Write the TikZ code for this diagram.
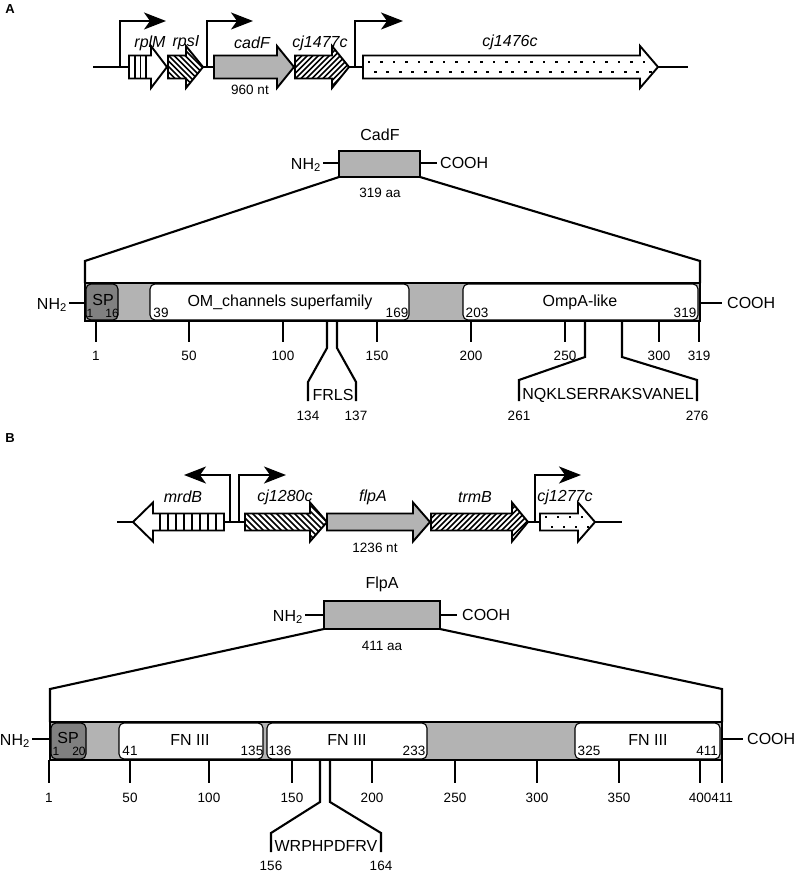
\documentclass[tikz,border=0pt]{standalone}
\usepackage{fontspec}
\setmainfont{Liberation Sans}
\usetikzlibrary{arrows.meta}
\definecolor{gfill}{HTML}{B3B3B3}
\definecolor{spfill}{HTML}{808080}
\newcommand{\gpath}[6]{(#1,{#4-#5}) -- (#2,{#4-#5}) -- (#2,{#4-#6}) -- (#3,#4) -- (#2,{#4+#6}) -- (#2,{#4+#5}) -- (#1,{#4+#5}) -- cycle}
\newcommand{\gene}[7]{%
  \fill[white] \gpath{#1}{#2}{#3}{#4}{#5}{#6};
  \begin{scope}\clip \gpath{#1}{#2}{#3}{#4}{#5}{#6};#7\end{scope}
  \draw[gline] \gpath{#1}{#2}{#3}{#4}{#5}{#6};}
\newcommand{\hatchbk}[5]{\foreach \i in {0,...,45}{\draw[hatch] ({#1-(#4-#3)+\i*#5},#3) -- ({#1+\i*#5},#4);}}
\newcommand{\hatchfw}[5]{\foreach \i in {0,...,45}{\draw[hatch] ({#1-(#4-#3)+\i*#5},#4) -- ({#1+\i*#5},#3);}}
\newcommand{\vstripes}[3]{\foreach \sx in {#1}{\draw[hatch] (\sx,#2) -- (\sx,#3);}}
\newcommand{\dotrows}[5]{\foreach \i in {0,...,30}{\fill ({#1+\i*#5-1.3},{#3-1.3}) rectangle ++(2.6,2.6); \fill ({#1+#5/2+\i*#5-1.3},{#4-1.3}) rectangle ++(2.6,2.6);}}
\begin{document}
\begin{tikzpicture}[x=1pt,y=-1pt,
  lw/.style={line width=2.1pt},
  gline/.style={line width=1.9pt, line join=miter},
  hatch/.style={line width=1.5pt},
  prom/.style={line width=1.6pt, -{Stealth[length=22pt,width=17pt,inset=6pt]}},
  tick/.style={line width=2.1pt},
  big/.style={inner sep=0pt, font=\fontsize{16}{18}\selectfont},
  small/.style={inner sep=0pt, font=\fontsize{13.5}{15}\selectfont},
  tiny/.style={inner sep=0pt, font=\fontsize{12}{13}\selectfont},
  gname/.style={inner sep=0pt, font=\fontsize{16}{18}\selectfont\itshape},
  plabel/.style={inner sep=0pt, font=\fontsize{13}{14}\selectfont\bfseries},
  dom/.style={draw, line width=1.1pt, fill=white, rounded corners=5pt},
  spdom/.style={draw, line width=1.1pt, fill=spfill, rounded corners=5pt}]
\useasboundingbox (0,0) rectangle (800,874);

% ================= Panel A =================
\node[plabel] (pA) at (10,9) {A};
\draw[lw] (93,67) -- (688,67);
% promoters
\draw[prom] (120,67) -- (120,21) -- (166,21);
\draw[prom] (207,67) -- (207,21) -- (253,21);
\draw[prom] (355,67) -- (355,21) -- (403,21);
% genes
\gene{129}{151}{167}{67}{11.5}{21}{\vstripes{135,140.5,146}{50}{85}}
\gene{168}{186}{203}{67}{11.5}{21}{\hatchbk{168}{203}{46}{88}{5.5}}
\gene{214}{277}{294}{67}{11.5}{21}{\fill[gfill] (200,40) rectangle (300,95);}
\gene{295}{332}{349}{67}{11.5}{21}{\hatchfw{295}{349}{46}{88}{5.5}}
\gene{363}{640}{658}{67}{11.5}{21}{\dotrows{369}{660}{62}{72}{12.5}}
\node[gname] (nrplM) at (150,43) {rplM};
\node[gname] (nrpsI) at (186,43) {rpsI};
\node[gname] (ncadF) at (252,43) {cadF};
\node[gname] (ncj1477c) at (320,43) {cj1477c};
\node[gname] (ncj1476c) at (510,42) {cj1476c};
\node[small] (ntA) at (250,90) {960 nt};

% small CadF
\node[big] (cadFname) at (380,135) {CadF};
\draw[lw, fill=gfill] (339,151) rectangle (420,177);
\draw[lw] (323,163) -- (339,163);
\draw[lw] (420,163) -- (437,163);
\node[big, anchor=east] (nh2a) at (321,165) {NH\textsubscript{2}};
\node[big, anchor=west] (cooha) at (440,163) {COOH};
\node[small] (aaA) at (380,193) {319 aa};
\draw[lw] (339,177) -- (85,261) -- (85,283);
\draw[lw] (420,177) -- (700,261) -- (700,283);

% big CadF bar
\fill[gfill] (85,283) rectangle (700,321);
\draw[spdom] (86,284) rectangle (118,320);
\draw[dom] (150,284) rectangle (409,320);
\draw[dom] (463,284) rectangle (698,320);
\draw[lw] (85,283) rectangle (700,321);
\draw[lw] (69,303) -- (85,303);
\draw[lw] (700,303) -- (722,303);
\node[big, anchor=east] (nh2A) at (67,305) {NH\textsubscript{2}};
\node[big, anchor=west] (coohA) at (727,303) {COOH};
\node[big] (spA) at (103,300) {SP};
\node[tiny] (spA1) at (90,313) {1};
\node[tiny] (spA16) at (112,313) {16};
\node[big] (omA) at (280,302) {OM\_channels superfamily};
\node[small] (omA1) at (161,313) {39};
\node[small] (omA2) at (397,313) {169};
\node[big] (ompA) at (580,302) {OmpA-like};
\node[small] (ompA1) at (477,313) {203};
\node[small] (ompA2) at (685,313) {319};
% ticks
\foreach \x/\l in {96/1,189/50,283/100,377/150,471/200,565/250,659/300,699/319}{
  \draw[tick] (\x,321) -- (\x,342);
  \node[small] (ta\l) at (\x,356) {\l};}
% motifs
\draw[lw] (327,321) -- (327,348) -- (308,382) -- (308,401);
\draw[lw] (337,321) -- (337,348) -- (356,382) -- (356,401);
\node[big] (frls) at (333,395) {FRLS};
\node[small] (m134) at (308,416) {134};
\node[small] (m137) at (356,416) {137};
\draw[lw] (585,321) -- (585,357) -- (519,380) -- (519,401);
\draw[lw] (622,321) -- (622,357) -- (697,380) -- (697,401);
\node[big] (nqkl) at (608,395) {NQKLSERRAKSVANEL};
\node[small] (m261) at (519,416) {261};
\node[small] (m276) at (697,416) {276};

% ================= Panel B =================
\node[plabel] (pB) at (10,438) {B};
\draw[lw] (117,522) -- (622,522);
\draw[prom] (230,522) -- (230,475) -- (184,475);
\draw[prom] (239,522) -- (239,475) -- (286,475);
\draw[prom] (535,522) -- (535,475) -- (581,475);
\gene{224}{153}{133}{522}{8.5}{19.5}{\vstripes{160,168,176,184,192,200,208,216}{500}{545}}
\gene{245}{310}{327}{522}{8.5}{19.5}{\hatchbk{245}{327}{502}{542}{6}}
\gene{327}{413}{430}{522}{8.5}{19.5}{\fill[gfill] (320,495) rectangle (440,550);}
\gene{431}{512}{528}{522}{8.5}{19.5}{\hatchfw{431}{528}{502}{542}{5.5}}
\gene{540}{578}{595}{522}{8.5}{19.5}{\dotrows{546}{600}{517}{527}{12}}
\node[gname] (nmrdB) at (183,497) {mrdB};
\node[gname] (ncj1280c) at (285,497) {cj1280c};
\node[gname] (nflpA) at (373,497) {flpA};
\node[gname] (ntrmB) at (475,497) {trmB};
\node[gname] (ncj1277c) at (565,497) {cj1277c};
\node[small] (ntB) at (375,548) {1236 nt};

% small FlpA
\node[big] (flpAname) at (382,584) {FlpA};
\draw[lw, fill=gfill] (324,601) rectangle (440,629);
\draw[lw] (305,615) -- (324,615);
\draw[lw] (440,615) -- (457,615);
\node[big, anchor=east] (nh2b) at (303,617) {NH\textsubscript{2}};
\node[big, anchor=west] (coohb) at (462,615) {COOH};
\node[small] (aaB) at (382,646) {411 aa};
\draw[lw] (324,629) -- (50,689) -- (50,722);
\draw[lw] (440,629) -- (722,689) -- (722,722);

% big FlpA bar
\fill[gfill] (50,722) rectangle (722,760);
\draw[spdom] (51,723) rectangle (86,759);
\draw[dom] (119,723) rectangle (263,759);
\draw[dom] (267,723) rectangle (427,759);
\draw[dom] (575,723) rectangle (720,759);
\draw[lw] (50,722) rectangle (722,760);
\draw[lw] (32,739) -- (50,739);
\draw[lw] (722,739) -- (743,739);
\node[big, anchor=east] (nh2B) at (30,741) {NH\textsubscript{2}};
\node[big, anchor=west] (coohB) at (747,739) {COOH};
\node[big] (spB) at (68,738) {SP};
\node[tiny] (spB1) at (56,751) {1};
\node[tiny] (spB20) at (79,751) {20};
\node[big] (fn1) at (190,740) {FN III};
\node[small] (fn1a) at (130,751) {41};
\node[small] (fn1b) at (252,751) {135};
\node[big] (fn2) at (347,740) {FN III};
\node[small] (fn2a) at (280,751) {136};
\node[small] (fn2b) at (414,751) {233};
\node[big] (fn3) at (648,740) {FN III};
\node[small] (fn3a) at (589,751) {325};
\node[small] (fn3b) at (707,751) {411};
\foreach \x/\l in {49/1,130/50,209/100,292/150,372/200,455/250,537/300,619/350,700/400,722/411}{
  \draw[tick] (\x,760) -- (\x,783);
  \node[small] (tb\l) at (\x,798) {\l};}
\draw[lw] (320,760) -- (320,802) -- (271,833) -- (271,852);
\draw[lw] (330,760) -- (330,802) -- (381,833) -- (381,852);
\node[big] (wrph) at (326,846) {WRPHPDFRV};
\node[small] (m156) at (271,866) {156};
\node[small] (m164) at (381,866) {164};
\end{tikzpicture}
\end{document}
